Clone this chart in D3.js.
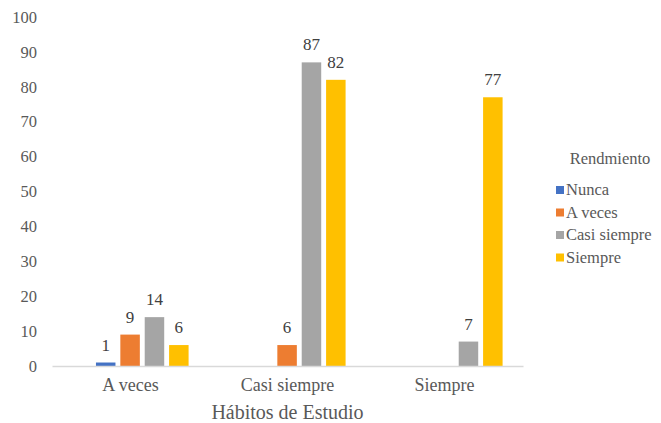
<!DOCTYPE html>
<html>
<head>
<meta charset="utf-8">
<script src="https://cdn.jsdelivr.net/npm/d3@7"></script>
<style>
  body { margin: 0; background: #fff; }
  svg text { font-family: "Liberation Serif", "DejaVu Serif", serif !important; }
</style>
</head>
<body>
<script>
const svgWidth = 661
const svgHeight = 423

const categories = ["A veces", "Casi siempre", "Siempre"]
const series = ["Nunca", "A veces", "Casi siempre", "Siempre"]
const nunca = [1, null, null]
const aVeces = [9, 6, null]
const casiSiempre = [14, 87, 7]
const siempre = [6, 82, 77]
const yTicks = [0, 10, 20, 30, 40, 50, 60, 70, 80, 90, 100]

const colors = ["#4472C4", "#ED7D31", "#A5A5A5", "#FFC000"]
const values = [nunca, aVeces, casiSiempre, siempre]

const plot = { left: 52, right: 523, top: 17, bottom: 366 }

const svg = d3.select("body").append("svg")
    .attr("width", svgWidth)
    .attr("height", svgHeight)
    .attr("font-family", "Liberation Serif, serif")

const x0 = d3.scaleBand()
    .domain(categories)
    .range([plot.left, plot.right])

const bw = x0.bandwidth()
const x1 = d3.scaleBand()
    .domain(series)
    .range([bw * 0.28, bw * 0.87])
    .paddingInner(0.2)

const y = d3.scaleLinear()
    .domain([0, 100])
    .range([plot.bottom, plot.top])

// y tick labels, no axis line
const yAxis = svg.append("g")
    .attr("transform", `translate(${plot.left}, 0)`)
    .call(d3.axisLeft(y).tickValues(yTicks).tickSize(0).tickPadding(15))
yAxis.attr("font-family", null).attr("font-size", null)
yAxis.select(".domain").remove()
yAxis.selectAll("text")
    .attr("fill", "#595959")
    .style("font-size", "16.5px")

// bars
const rows = []
categories.forEach((c, i) => {
    series.forEach((s, j) => {
        if (values[j][i] != null) rows.push({ cat: c, ser: s, v: values[j][i], color: colors[j] })
    })
})

svg.append("g").selectAll("rect")
    .data(rows)
    .join("rect")
    .attr("x", d => x0(d.cat) + x1(d.ser))
    .attr("y", d => y(d.v))
    .attr("width", x1.bandwidth())
    .attr("height", d => y(0) - y(d.v))
    .attr("fill", d => d.color)

svg.append("g").selectAll("text")
    .data(rows)
    .join("text")
    .attr("x", d => x0(d.cat) + x1(d.ser) + x1.bandwidth() / 2)
    .attr("y", d => y(d.v) - 12)
    .attr("text-anchor", "middle")
    .attr("fill", "#404040")
    .style("font-size", "17px")
    .text(d => d.v)

// x axis
const xAxis = svg.append("g")
    .attr("transform", `translate(0, ${plot.bottom})`)
    .call(d3.axisBottom(x0).tickSize(0).tickPadding(12))
xAxis.attr("font-family", null).attr("font-size", null)
xAxis.select(".domain").attr("stroke", "#d9d9d9").attr("stroke-width", 1.3)
xAxis.selectAll("text")
    .attr("fill", "#595959")
    .style("font-size", "18px")

svg.append("text")
    .attr("x", (plot.left + plot.right) / 2)
    .attr("y", 419)
    .attr("text-anchor", "middle")
    .attr("fill", "#595959")
    .style("font-size", "20px")
    .text("Hábitos de Estudio")

// legend
const legend = svg.append("g")
    .attr("transform", "translate(556, 0)")

legend.append("text")
    .attr("x", 54)
    .attr("y", 164)
    .attr("text-anchor", "middle")
    .attr("fill", "#595959")
    .style("font-size", "16.5px")
    .text("Rendmiento")

series.forEach((s, i) => {
    const ly = 190 + i * 22.5
    legend.append("rect")
        .attr("x", 0)
        .attr("y", ly - 4)
        .attr("width", 8)
        .attr("height", 8)
        .attr("fill", colors[i])
    legend.append("text")
        .attr("x", 10)
        .attr("y", ly + 5)
        .attr("fill", "#595959")
        .style("font-size", "16.5px")
        .text(s)
})
</script>
</body>
</html>
